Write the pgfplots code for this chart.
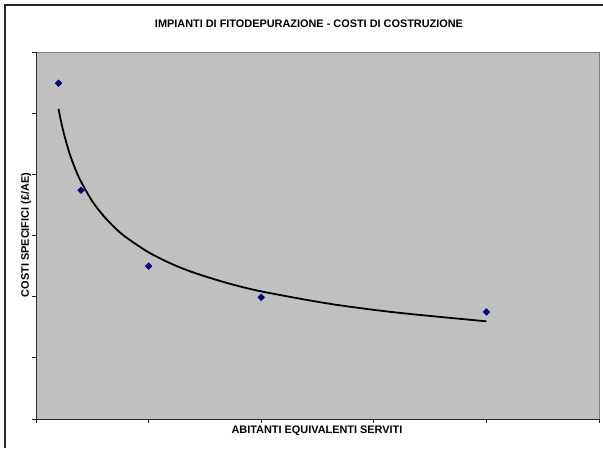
\documentclass[border=0pt]{standalone}
\usepackage{pgfplots}
\pgfplotsset{compat=1.18}
\usepackage{fontspec}
\setmainfont{Liberation Sans}
\definecolor{plotbg}{RGB}{192,192,192}
\definecolor{frameline}{RGB}{128,128,128}
\definecolor{markblue}{RGB}{0,0,128}

\begin{document}
\begin{tikzpicture}[x=1pt,y=1pt]
\useasboundingbox (0,0) rectangle (603,448);
% chart frame (left and top edges)
\draw[line width=1.5pt, black!85] (5,0) -- (5,443) -- (603,443);

\begin{axis}[
  at={(36pt,29pt)}, anchor=south west,
  width=563pt, height=367pt, scale only axis,
  xmin=0, xmax=2500, ymin=0, ymax=600,
  xtick={0,500,...,2500}, ytick={0,100,...,600},
  xticklabels={}, yticklabels={},
  axis lines=left,
  axis line style={-, line width=0.9pt, black!85},
  tick align=outside,
  major tick length=3.5pt,
  tick style={black!85, line width=0.7pt},
  axis background/.style={fill=plotbg, draw=frameline, line width=0.9pt},
  clip=false,
]
% power trend line
\addplot[black, line width=1.8pt, smooth, no marks] coordinates {
  (100,507) (110,488.7) (125,465) (150,433) (175,408.3) (200,388)
  (250,356) (300,332) (350,312.7) (400,297) (500,272.5) (600,254)
  (700,239.4) (850,222.2) (1000,208.7) (1300,188.6) (1600,174.1) (2000,159.7)
};
% measured costs
\addplot[only marks, mark=square*, mark size=2.4pt,
  mark options={fill=markblue, draw=markblue, rotate=45}] coordinates {
  (100,549) (200,374) (500,250) (1000,199) (2000,175)
};
\end{axis}

\node[font=\fontsize{10.9}{12}\selectfont\bfseries] at (309,424)
  {IMPIANTI DI FITODEPURAZIONE - COSTI DI COSTRUZIONE};
\node[font=\fontsize{10.9}{12}\selectfont\bfseries, rotate=90] at (26,213)
  {COSTI SPECIFICI (£/AE)};
\node[font=\fontsize{10.9}{12}\selectfont\bfseries] at (317,17)
  {ABITANTI EQUIVALENTI SERVITI};
\end{tikzpicture}
\end{document}
